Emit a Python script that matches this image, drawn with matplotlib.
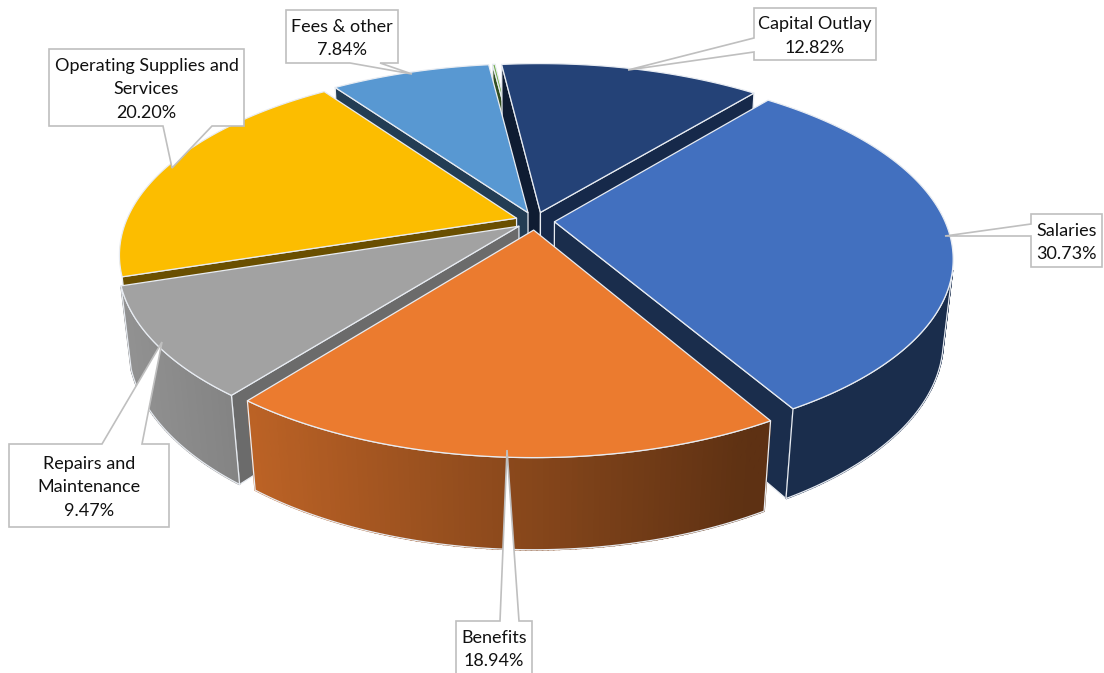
import numpy as np
import matplotlib
matplotlib.use("Agg")
import matplotlib.pyplot as plt
from matplotlib.patches import Polygon

plt.rcParams['font.family'] = ['Lato', 'DejaVu Sans']

# Budget shares, clockwise from the first slice
categories = ['Salaries', 'Benefits', 'Repairs and\nMaintenance',
              'Operating Supplies and\nServices', 'Fees & other', 'Other', 'Capital Outlay']
shares = [30.73, 18.94, 9.47, 20.20, 7.84, 0.12, 12.82]
share_labels = ['30.73%', '18.94%', '9.47%', '20.20%', '7.84%', None, '12.82%']
colors = ['#4270BF', '#EB7B2F', '#A2A2A2', '#FCBD00', '#5898D2', '#70AD47', '#244277']
# Brightness of the two radial walls of each slice (leading edge, trailing edge)
wall_shade = [(0.40, 0.40), (0.40, 0.40), (0.66, 0.40), (0.42, 0.42),
              (0.40, 0.40), (0.45, 0.45), (0.42, 0.62)]
# The outer wall of the upper-left slice stays out of view
outer_wall = [True, True, True, False, False, False, False]

# Callout boxes: box (left, top, right, bottom), side of notch, notch span, pointer tip
callouts = [
    ((1031, 214, 1102, 267), 'left', (224, 236), (945, 236)),
    ((456, 621, 532, 674), 'top', (500, 519), (507, 450)),
    ((9, 444, 169, 527), 'top', (102, 142), (162, 342)),
    ((49, 49, 244, 126), 'bottom', (163, 212), (172, 168)),
    ((286, 10, 398, 63), 'bottom', (350, 380), (412, 74)),
    None,
    ((754, 8, 876, 60), 'left', (38, 52), (628, 70)),
]

# Camera and pie geometry
FIRST_ANGLE = 39.4
EXPLODE = 0.05
THICKNESS = 0.235
ELEV = np.radians(27.5)
DIST = 4.65
FOCAL = 1815.0
CX, CY = 535.0, 221.0
CAM_Y = DIST * np.cos(ELEV)


def project(x, y, z=0.0):
    """Pinhole projection of pie coordinates (y toward viewer, z up) to pixels."""
    x, y, z = np.asarray(x, float), np.asarray(y, float), np.asarray(z, float)
    depth = DIST - y * np.cos(ELEV) - z * np.sin(ELEV)
    sx = CX + FOCAL * x / depth
    sy = CY + FOCAL * (y * np.sin(ELEV) - z * np.cos(ELEV)) / depth
    return np.column_stack([sx, sy])


def shaded(color, factor):
    rgb = np.array(matplotlib.colors.to_rgb(color))
    return tuple(np.clip(rgb * factor, 0, 1))


def outer_shade(px):
    """Outer walls darken from left to right across the pie."""
    return float(np.clip(0.80 - (px - 250.0) / 520.0 * 0.42, 0.40, 0.92))


fig = plt.figure(figsize=(11.04, 6.73), dpi=100)
ax = fig.add_axes([0, 0, 1, 1])
ax.set_xlim(0, 1104)
ax.set_ylim(673, 0)
ax.axis('off')

edge_kw = dict(edgecolor='#E8ECF2', linewidth=0.9, joinstyle='round')

total = sum(shares)
bounds = FIRST_ANGLE + np.cumsum([0] + shares) / total * 360.0
slices = []
for i, share in enumerate(shares):
    a0, a1 = np.radians(bounds[i]), np.radians(bounds[i + 1])
    mid = (a0 + a1) / 2
    ox, oy = EXPLODE * np.sin(mid), -EXPLODE * np.cos(mid)
    slices.append((oy + 0.4 * (-np.cos(mid)), i, a0, a1, ox, oy))

# Paint slices from the far side to the near side
for _, i, a0, a1, ox, oy in sorted(slices):
    n = max(3, int(np.degrees(a1 - a0) * 1.5))
    th = np.linspace(a0, a1, n)
    rx, ry = ox + np.sin(th), oy - np.cos(th)
    col = colors[i]

    # Radial walls that face the camera
    for ang, sign, shade in zip((a0, a1), (-1, 1), wall_shade[i]):
        nx, ny = sign * np.cos(ang), sign * np.sin(ang)
        if nx * (0 - ox) + ny * (CAM_Y - oy) <= 0:
            continue
        ex, ey = ox + np.sin(ang), oy - np.cos(ang)
        xs = [ox, ex, ex, ox]
        ys = [oy, ey, ey, oy]
        zs = [0, 0, -THICKNESS, -THICKNESS]
        ax.add_patch(Polygon(project(xs, ys, zs), closed=True,
                             facecolor=shaded(col, shade), **edge_kw))

    # Outer wall: short quads carrying the left-to-right shading
    if outer_wall[i]:
        top = project(rx, ry, 0.0)
        bot = project(rx, ry, -THICKNESS)
        front = np.sin(th) * (0 - rx) - np.cos(th) * (CAM_Y - ry) > 0
        idx = np.where(front)[0]
        for k in idx[:-1]:
            quad = np.array([top[k], top[k + 1], bot[k + 1], bot[k]])
            c = shaded(col, outer_shade(quad[:, 0].mean()))
            ax.add_patch(Polygon(quad, closed=True, facecolor=c, edgecolor=c, linewidth=1.2))
        a, b = idx[0], idx[-1] + 1
        outline = np.vstack([top[a:b], bot[a:b][::-1]])
        ax.add_patch(Polygon(outline, closed=True, facecolor='none', **edge_kw))

    # Top face
    xs = np.r_[ox, rx]
    ys = np.r_[oy, ry]
    ax.add_patch(Polygon(project(xs, ys, 0.0), closed=True, facecolor=col, **edge_kw))

# Data-label callouts with pointers
for cat, lab, call in zip(categories, share_labels, callouts):
    if call is None:
        continue
    (l, t, r, b), side, (n0, n1), tip = call
    if side == 'left':
        pts = [(l, t), (r, t), (r, b), (l, b), (l, n1), tip, (l, n0)]
    elif side == 'top':
        pts = [(l, t), (n0, t), tip, (n1, t), (r, t), (r, b), (l, b)]
    else:
        pts = [(l, t), (r, t), (r, b), (n1, b), tip, (n0, b), (l, b)]
    ax.add_patch(Polygon(pts, closed=True, facecolor='white', edgecolor='#BFBFBF',
                         linewidth=1.2, zorder=10))
    ax.text((l + r) / 2, (t + b) / 2 + 2, f'{cat}\n{lab}', ha='center', va='center',
            fontsize=13, color='#111111', linespacing=1.55, zorder=11)

fig.savefig('out.png', dpi=100)
